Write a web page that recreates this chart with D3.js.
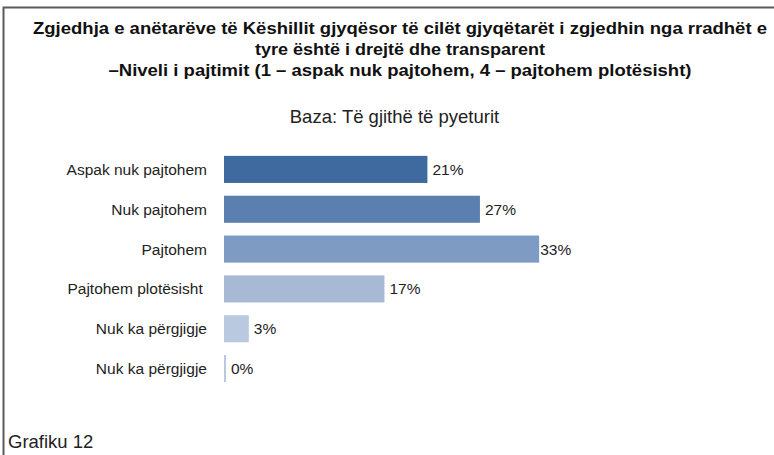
<!DOCTYPE html>
<html>
<head>
<meta charset="utf-8">
<script src="https://cdn.jsdelivr.net/npm/d3@7"></script>
<style>
  body { margin: 0; background: #fff; }
  svg { display: block; font-family: 'Liberation Sans', Arial, sans-serif; }
</style>
</head>
<body>
<div class="canvas"></div>
<script>
const categories = ['Aspak nuk pajtohem', 'Nuk pajtohem', 'Pajtohem', 'Pajtohem plotësisht ', 'Nuk ka përgjigje', 'Nuk ka përgjigje'];
const values = [21.3, 26.8, 33.0, 16.8, 2.6, 0.2];
const barColors = ['#3e6aa0', '#5b7fae', '#7d9bc3', '#a7b9d4', '#b9c9e0', '#b9c9e0'];
const titleLines = [
  'Zgjedhja e anëtarëve të Këshillit gjyqësor të cilët gjyqëtarët i zgjedhin nga rradhët e',
  'tyre është i drejtë dhe transparent',
  '–Niveli i pajtimit (1 – aspak nuk pajtohem, 4 – pajtohem plotësisht)'
];
const titleWidths = [734, 290, 583];
const subtitle = 'Baza: Të gjithë të pyeturit';
const footer = 'Grafiku 12';

const dimension = { width: 774, height: 455 };

// svg container
const svg = d3
  .select('.canvas')
  .append('svg')
  .attr('width', dimension.width)
  .attr('height', dimension.height);

// frame (top and left edges)
svg.append('path')
  .attr('d', `M3.5,${dimension.height} V7.5 H${dimension.width}`)
  .attr('fill', 'none')
  .attr('stroke', '#5a5a5a')
  .attr('stroke-width', 2);

// title (condensed to the reference widths)
svg.append('g')
  .selectAll('text')
  .data(titleLines)
  .enter()
  .append('text')
  .attr('x', 400)
  .attr('y', (d, i) => [34, 54.5, 75.5][i])
  .attr('text-anchor', 'middle')
  .attr('font-size', 16.5)
  .attr('font-weight', 'bold')
  .attr('fill', '#111')
  .attr('textLength', (d, i) => titleWidths[i])
  .attr('lengthAdjust', 'spacingAndGlyphs')
  .text(d => d);

svg.append('text')
  .attr('x', 394.5)
  .attr('y', 123)
  .attr('text-anchor', 'middle')
  .attr('font-size', 18.5)
  .attr('fill', '#222')
  .text(subtitle);

// scales
const x = d3.scaleLinear().domain([0, 10]).range([224, 319.5]);

const y = d3
  .scaleBand()
  .domain(d3.range(categories.length))
  .range([149.5, 388.5])
  .paddingInner(0.32)
  .paddingOuter(0.16);

const graph = svg.append('g');

graph
  .selectAll('rect')
  .data(values)
  .enter()
  .append('rect')
  .attr('x', x(0))
  .attr('y', (d, i) => y(i))
  .attr('width', d => Math.max(x(d) - x(0), 2))
  .attr('height', y.bandwidth())
  .attr('fill', (d, i) => barColors[i]);

// category labels
graph
  .selectAll('.cat')
  .data(categories)
  .enter()
  .append('text')
  .attr('class', 'cat')
  .attr('x', 207)
  .attr('y', (d, i) => y(i) + y.bandwidth() / 2)
  .attr('dy', '0.36em')
  .attr('text-anchor', 'end')
  .attr('font-size', 15.5)
  .attr('fill', '#222')
  .style('white-space', 'pre')
  .text(d => d);

// value labels
const fmt = d3.format('.0f');
graph
  .selectAll('.val')
  .data(values)
  .enter()
  .append('text')
  .attr('class', 'val')
  .attr('x', (d, i) => (i === 2 ? x(d) + 1 : Math.max(x(d), x(0) + 2) + 5))
  .attr('y', (d, i) => y(i) + y.bandwidth() / 2)
  .attr('dy', '0.36em')
  .attr('font-size', 15.5)
  .attr('fill', '#222')
  .text(d => fmt(d) + '%');

svg.append('text')
  .attr('x', 8)
  .attr('y', 448)
  .attr('font-size', 18.5)
  .attr('fill', '#222')
  .text(footer);
</script>
</body>
</html>
